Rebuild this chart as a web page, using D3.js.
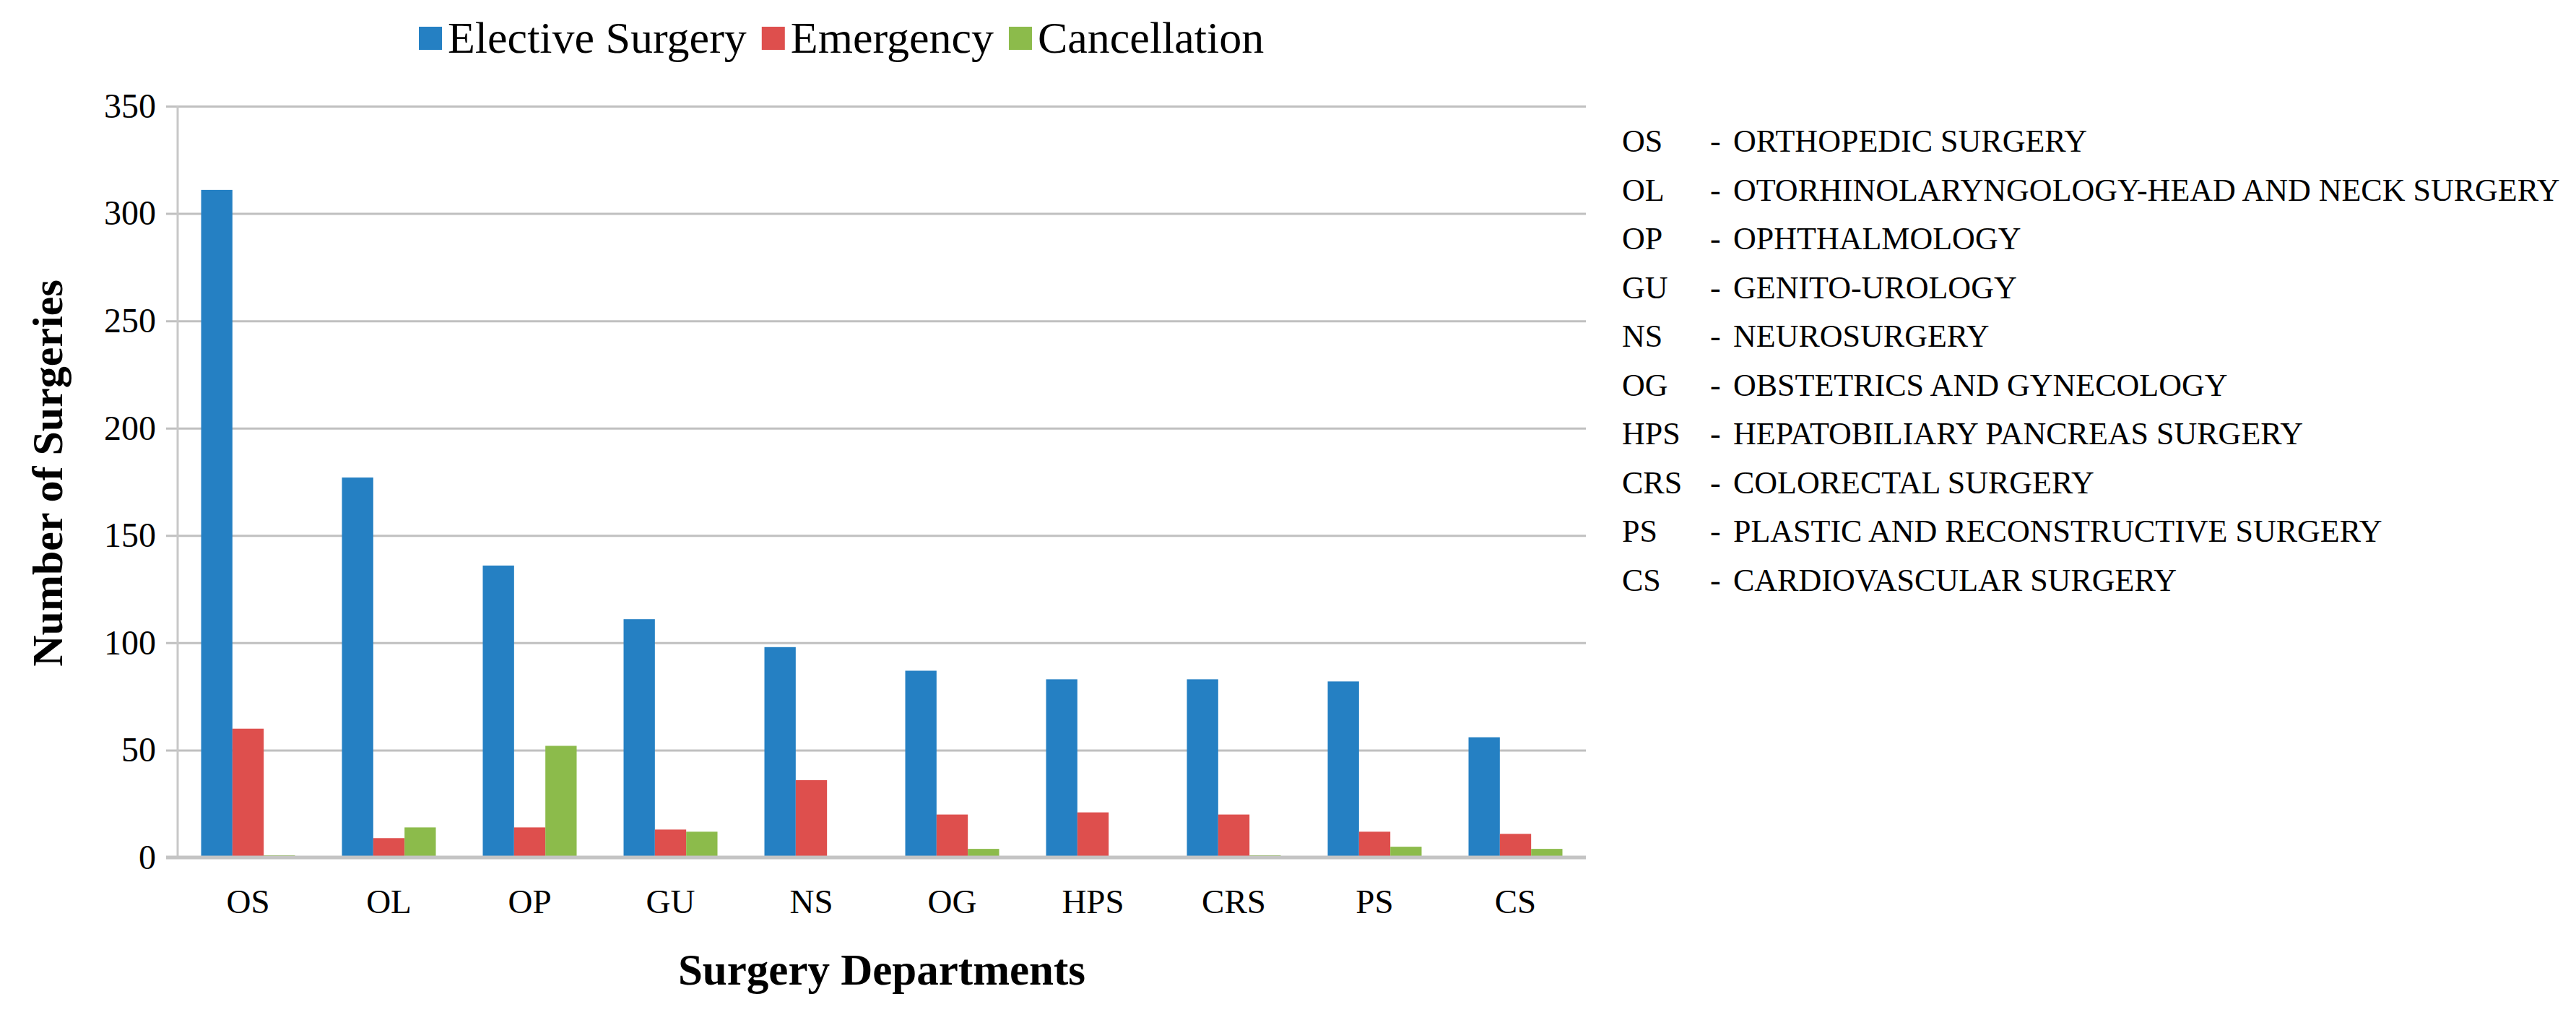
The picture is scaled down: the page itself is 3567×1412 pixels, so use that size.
<!DOCTYPE html>
<html>
<head>
<meta charset="utf-8">
<script src="https://cdn.jsdelivr.net/npm/d3@7"></script>
<style>
  body { margin: 0; background: #fff; }
  text { font-family: "Liberation Serif", "Times New Roman", serif; fill: #000; }
</style>
</head>
<body>
<div id="chart"></div>
<script>
// departments and counts
var departments = ["OS", "OL", "OP", "GU", "NS", "OG", "HPS", "CRS", "PS", "CS"];
var elective = [311, 177, 136, 111, 98, 87, 83, 83, 82, 56];
var emergency = [60, 9, 14, 13, 36, 20, 21, 20, 12, 11];
var cancellation = [1, 14, 52, 12, 0, 4, 0, 1, 5, 4];
var seriesNames = ["Elective Surgery", "Emergency", "Cancellation"];
var seriesColors = ["#2580c3", "#de4f4d", "#8cbb4b"];
var yTicks = [0, 50, 100, 150, 200, 250, 300, 350];
var fullNames = [
  "ORTHOPEDIC SURGERY",
  "OTORHINOLARYNGOLOGY-HEAD AND NECK SURGERY",
  "OPHTHALMOLOGY",
  "GENITO-UROLOGY",
  "NEUROSURGERY",
  "OBSTETRICS AND GYNECOLOGY",
  "HEPATOBILIARY PANCREAS SURGERY",
  "COLORECTAL SURGERY",
  "PLASTIC AND RECONSTRUCTIVE SURGERY",
  "CARDIOVASCULAR SURGERY"
];

var W = 3567, H = 1412;
var margin = { top: 147, left: 246 },
  width = 1950,
  height = 1040;

var svg = d3.select("#chart")
  .append("svg")
  .attr("width", W)
  .attr("height", H);

var g = svg.append("g")
  .attr("transform", "translate(" + margin.left + "," + margin.top + ")");

var x0 = d3.scaleBand()
  .domain(departments)
  .range([0, width])
  .paddingInner(1 / 3)
  .paddingOuter(1 / 6);

var x1 = d3.scaleBand()
  .domain(seriesNames)
  .range([0, x0.bandwidth()]);

var y = d3.scaleLinear()
  .domain([0, 350])
  .range([height, 0]);

// gridlines + y axis
var yAxis = g.append("g")
  .call(d3.axisLeft(y).tickValues(yTicks).tickSize(-width).tickSizeOuter(0).tickPadding(30));
yAxis.select(".domain").remove();
yAxis.selectAll(".tick line")
  .attr("x1", -16)
  .attr("stroke", "#c0c0c0")
  .attr("stroke-width", 3);
yAxis.selectAll(".tick text")
  .attr("font-size", 48)
  .attr("font-family", "Liberation Serif, serif")
  .attr("fill", "#000");

// left axis line
g.append("line")
  .attr("x1", 0).attr("x2", 0)
  .attr("y1", 0).attr("y2", height)
  .attr("stroke", "#c8c8c8")
  .attr("stroke-width", 3);

// bars
var rows = departments.map(function (d, i) {
  return { dept: d, values: [elective[i], emergency[i], cancellation[i]] };
});

var groups = g.selectAll(".grp")
  .data(rows)
  .enter().append("g")
  .attr("transform", function (d) { return "translate(" + x0(d.dept) + ",0)"; });

groups.selectAll("rect")
  .data(function (d) {
    return d.values.map(function (v, k) { return { name: seriesNames[k], value: v, k: k }; });
  })
  .enter().append("rect")
  .attr("x", function (d) { return x1(d.name); })
  .attr("width", x1.bandwidth())
  .attr("y", function (d) { return y(d.value); })
  .attr("height", function (d) { return height - y(d.value); })
  .attr("fill", function (d) { return seriesColors[d.k]; });

// zero line
g.append("line")
  .attr("x1", -16).attr("x2", width)
  .attr("y1", height).attr("y2", height)
  .attr("stroke", "#c4c4c4")
  .attr("stroke-width", 5);

// x axis labels
var xAxis = g.append("g")
  .attr("transform", "translate(0," + height + ")")
  .call(d3.axisBottom(x0).tickSize(0).tickPadding(44));
xAxis.select(".domain").remove();
xAxis.selectAll(".tick text")
  .attr("font-size", 47)
  .attr("font-family", "Liberation Serif, serif")
  .attr("fill", "#000");

// axis titles
svg.append("text")
  .attr("x", margin.left + width / 2)
  .attr("y", 1363)
  .attr("text-anchor", "middle")
  .attr("font-size", 61)
  .attr("font-weight", "bold")
  .text("Surgery Departments");

svg.append("text")
  .attr("transform", "translate(86,655) rotate(-90)")
  .attr("text-anchor", "middle")
  .attr("font-size", 60)
  .attr("font-weight", "bold")
  .text("Number of Surgeries");

// top legend
var legend = svg.append("g").attr("transform", "translate(580,0)");
var lx = 0;
seriesNames.forEach(function (name, k) {
  legend.append("rect")
    .attr("x", lx).attr("y", 37)
    .attr("width", 32).attr("height", 32)
    .attr("fill", seriesColors[k]);
  var t = legend.append("text")
    .attr("x", lx + 40)
    .attr("y", 73)
    .attr("font-size", 62)
    .text(name);
  lx += 40 + t.node().getComputedTextLength() + 21;
});

// abbreviation key on the right
var key = svg.append("g");
departments.forEach(function (d, i) {
  var yy = 210 + i * 67.5;
  key.append("text").attr("x", 2246).attr("y", yy).attr("font-size", 44).text(d);
  key.append("text").attr("x", 2368).attr("y", yy).attr("font-size", 44).text("-");
  key.append("text").attr("x", 2400).attr("y", yy).attr("font-size", 44).text(fullNames[i]);
});
</script>
</body>
</html>
